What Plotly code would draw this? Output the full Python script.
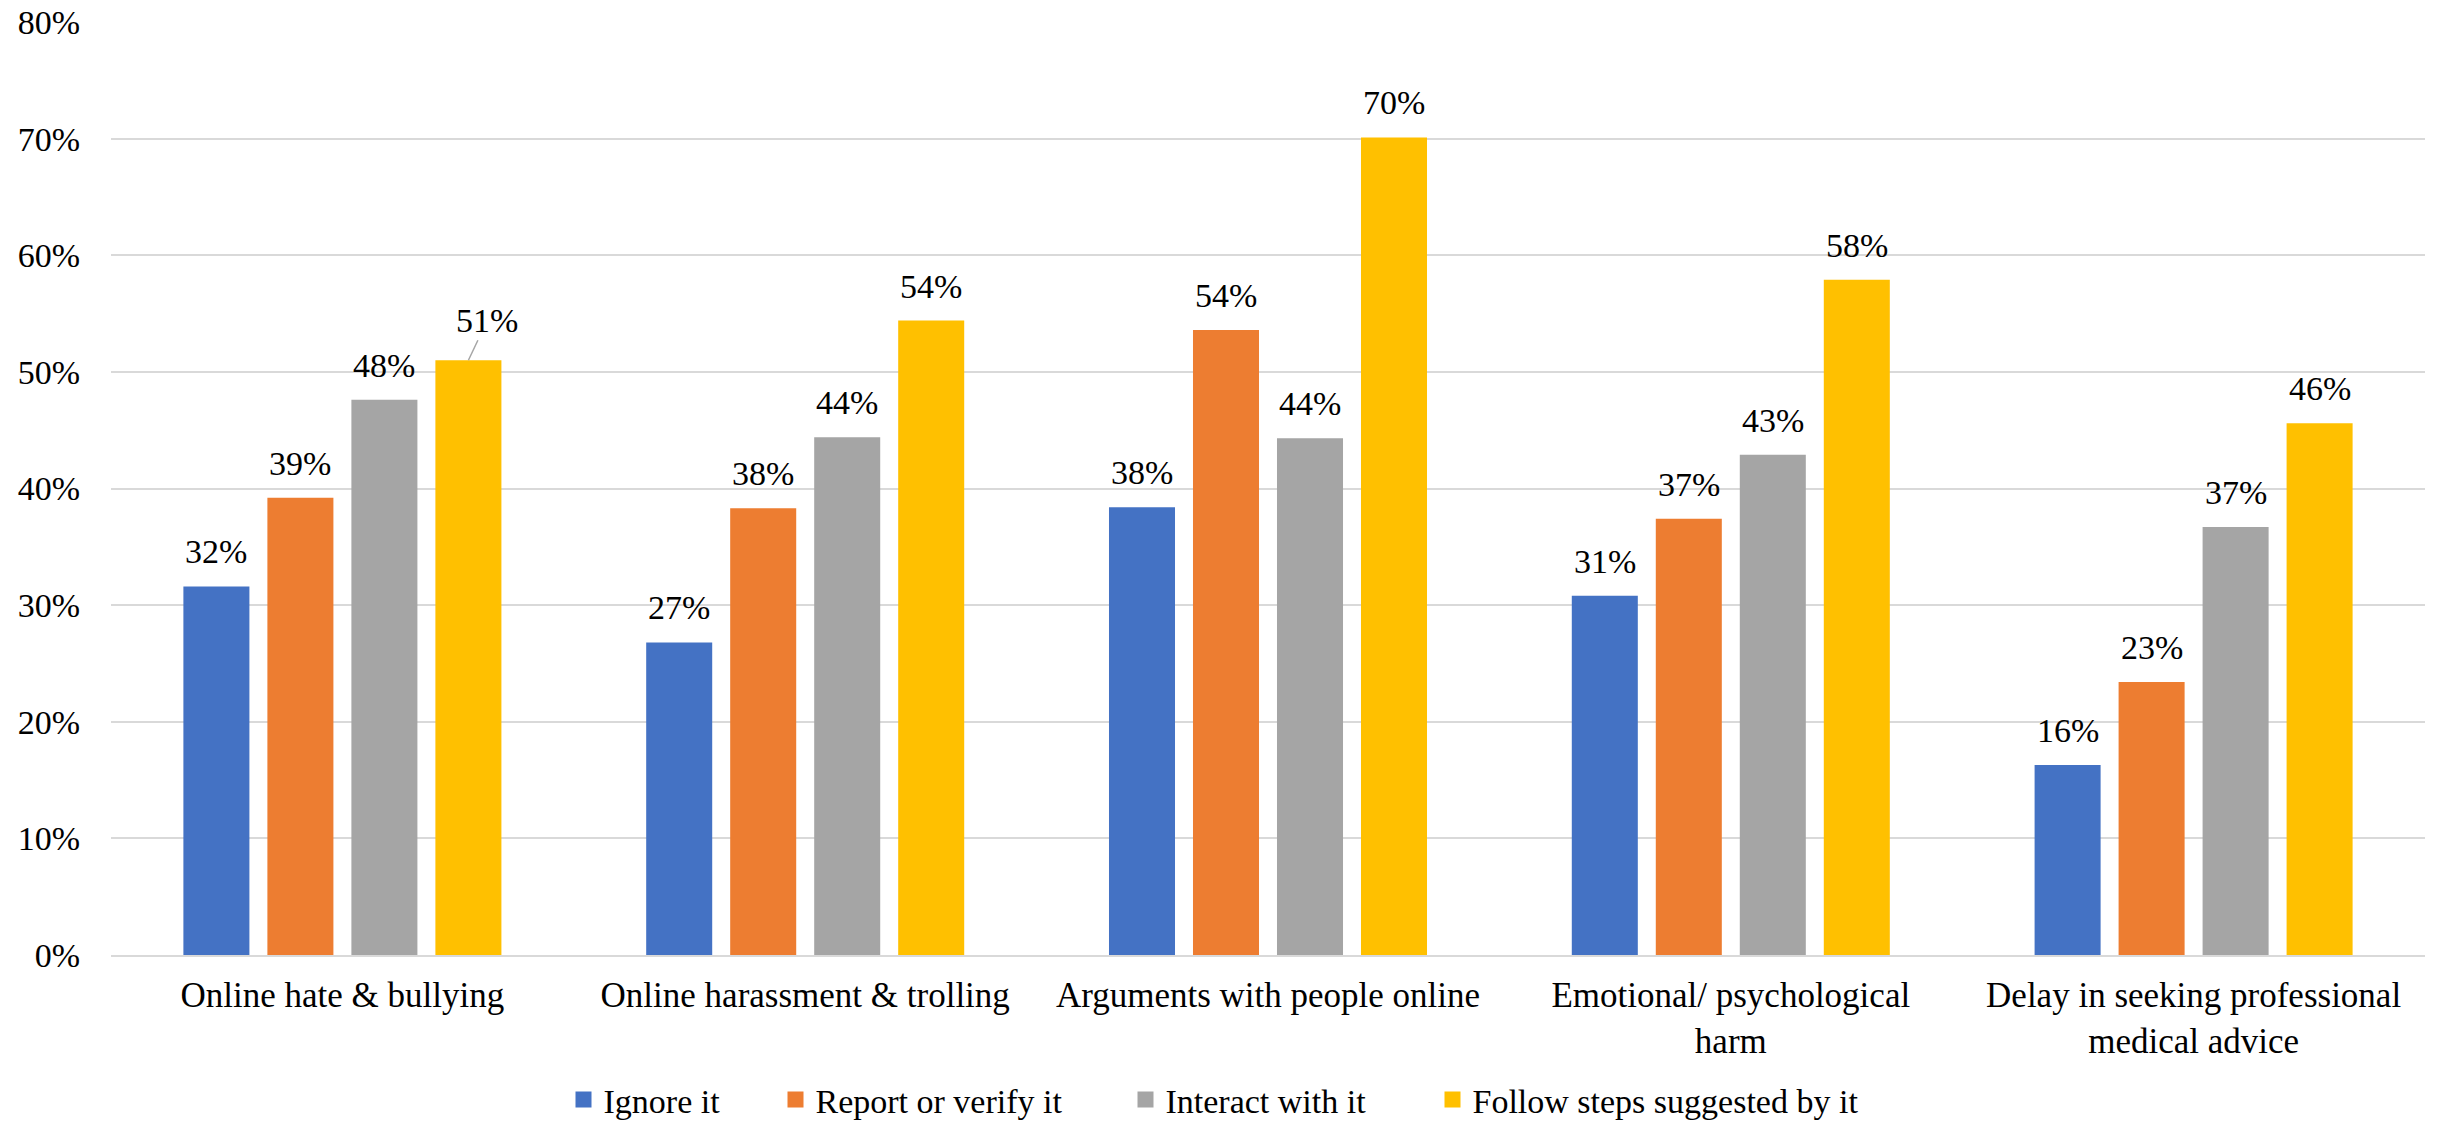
import plotly.graph_objects as go

# Survey shares (%) by harm category and response
categories = [
    "Online hate & bullying",
    "Online harassment & trolling",
    "Arguments with people online",
    "Emotional/ psychological<br>harm",
    "Delay in seeking professional<br>medical advice",
]
series_names = ["Ignore it", "Report or verify it", "Interact with it", "Follow steps suggested by it"]
ignore_it = [31.6, 26.8, 38.4, 30.8, 16.3]
report_it = [39.2, 38.3, 53.6, 37.4, 23.4]
interact_it = [47.6, 44.4, 44.3, 42.9, 36.7]
follow_it = [51.0, 54.4, 70.1, 57.9, 45.6]
y_ticks = [0, 10, 20, 30, 40, 50, 60, 70, 80]
y_tick_labels = ["0%", "10%", "20%", "30%", "40%", "50%", "60%", "70%", "80%"]

colors = ["#4472C4", "#ED7D31", "#A5A5A5", "#FFC000"]
all_values = [ignore_it, report_it, interact_it, follow_it]

FONT = "Liberation Serif"
FS = 35
W, H = 2443, 1121
ML, MR, MT, MB = 111, 18, 22, 166
BARGAP = 0.274
GROUPGAP = 0.214

fig = go.Figure()
for name, vals, col in zip(series_names, all_values, colors):
    fig.add_trace(go.Bar(x=categories, y=vals, name=name, marker_color=col,
                         marker_line_width=0, showlegend=False))

# pixel offset of each series within a category slot
plot_w = W - ML - MR
cat_w = plot_w / len(categories)
slot = cat_w * (1 - BARGAP) / len(series_names)
offsets = [(k - (len(series_names) - 1) / 2) * slot for k in range(len(series_names))]

annotations = []
for k, vals in enumerate(all_values):
    for i, v in enumerate(vals):
        txt = f"{round(v):d}%"
        if k == 3 and i == 0:
            # label lifted off the bar with a leader line
            annotations.append(dict(x=categories[i], y=v, text=txt, xshift=offsets[k],
                                    showarrow=True, arrowhead=0, arrowwidth=1.5,
                                    arrowcolor="#A6A6A6", ax=19, ay=-40, standoff=0,
                                    font=dict(family=FONT, size=FS - 1, color="#000000")))
        else:
            annotations.append(dict(x=categories[i], y=v, text=txt, xshift=offsets[k],
                                    yshift=14, yanchor="bottom", showarrow=False,
                                    font=dict(family=FONT, size=FS - 1, color="#000000")))

# legend: one entry per legend box so spacing follows the text
legend_left = [579, 791, 1141, 1448]
legend_keys = ["legend", "legend2", "legend3", "legend4"]
for name, col, key in zip(series_names, colors, legend_keys):
    fig.add_trace(go.Scatter(x=[None], y=[None], mode="markers", name=name,
                             marker=dict(symbol="square", size=19, color=col),
                             legend=key, showlegend=True))

layout_legends = {}
for key, left in zip(legend_keys, legend_left):
    layout_legends[key] = dict(
        x=(left - 15.5) / W, xref="container", xanchor="left",
        y=1 - 1100 / H, yref="container", yanchor="middle",
        orientation="h", bgcolor="rgba(0,0,0,0)", borderwidth=0,
        font=dict(family=FONT, size=FS - 1, color="#000000"),
    )

fig.update_layout(
    width=W, height=H,
    margin=dict(l=ML, r=MR, t=MT, b=MB, pad=0, autoexpand=False),
    paper_bgcolor="white", plot_bgcolor="white",
    barmode="group", bargap=BARGAP, bargroupgap=GROUPGAP,
    font=dict(family=FONT, size=FS, color="#000000"),
    annotations=annotations,
    **layout_legends,
)
fig.update_xaxes(showgrid=False, showline=True, linecolor="#D9D9D9", linewidth=2,
                 ticks="", tickfont=dict(family=FONT, size=FS, color="#000000"),
                 ticklabelstandoff=8, automargin=False)
fig.update_yaxes(range=[0, 80], tickvals=y_ticks, ticktext=y_tick_labels, showgrid=True,
                 gridcolor="#D9D9D9", gridwidth=2, zeroline=False, showline=False,
                 ticks="", tickfont=dict(family=FONT, size=FS - 1, color="#000000"),
                 ticklabelstandoff=30, automargin=False)

fig.write_html("out.html")
